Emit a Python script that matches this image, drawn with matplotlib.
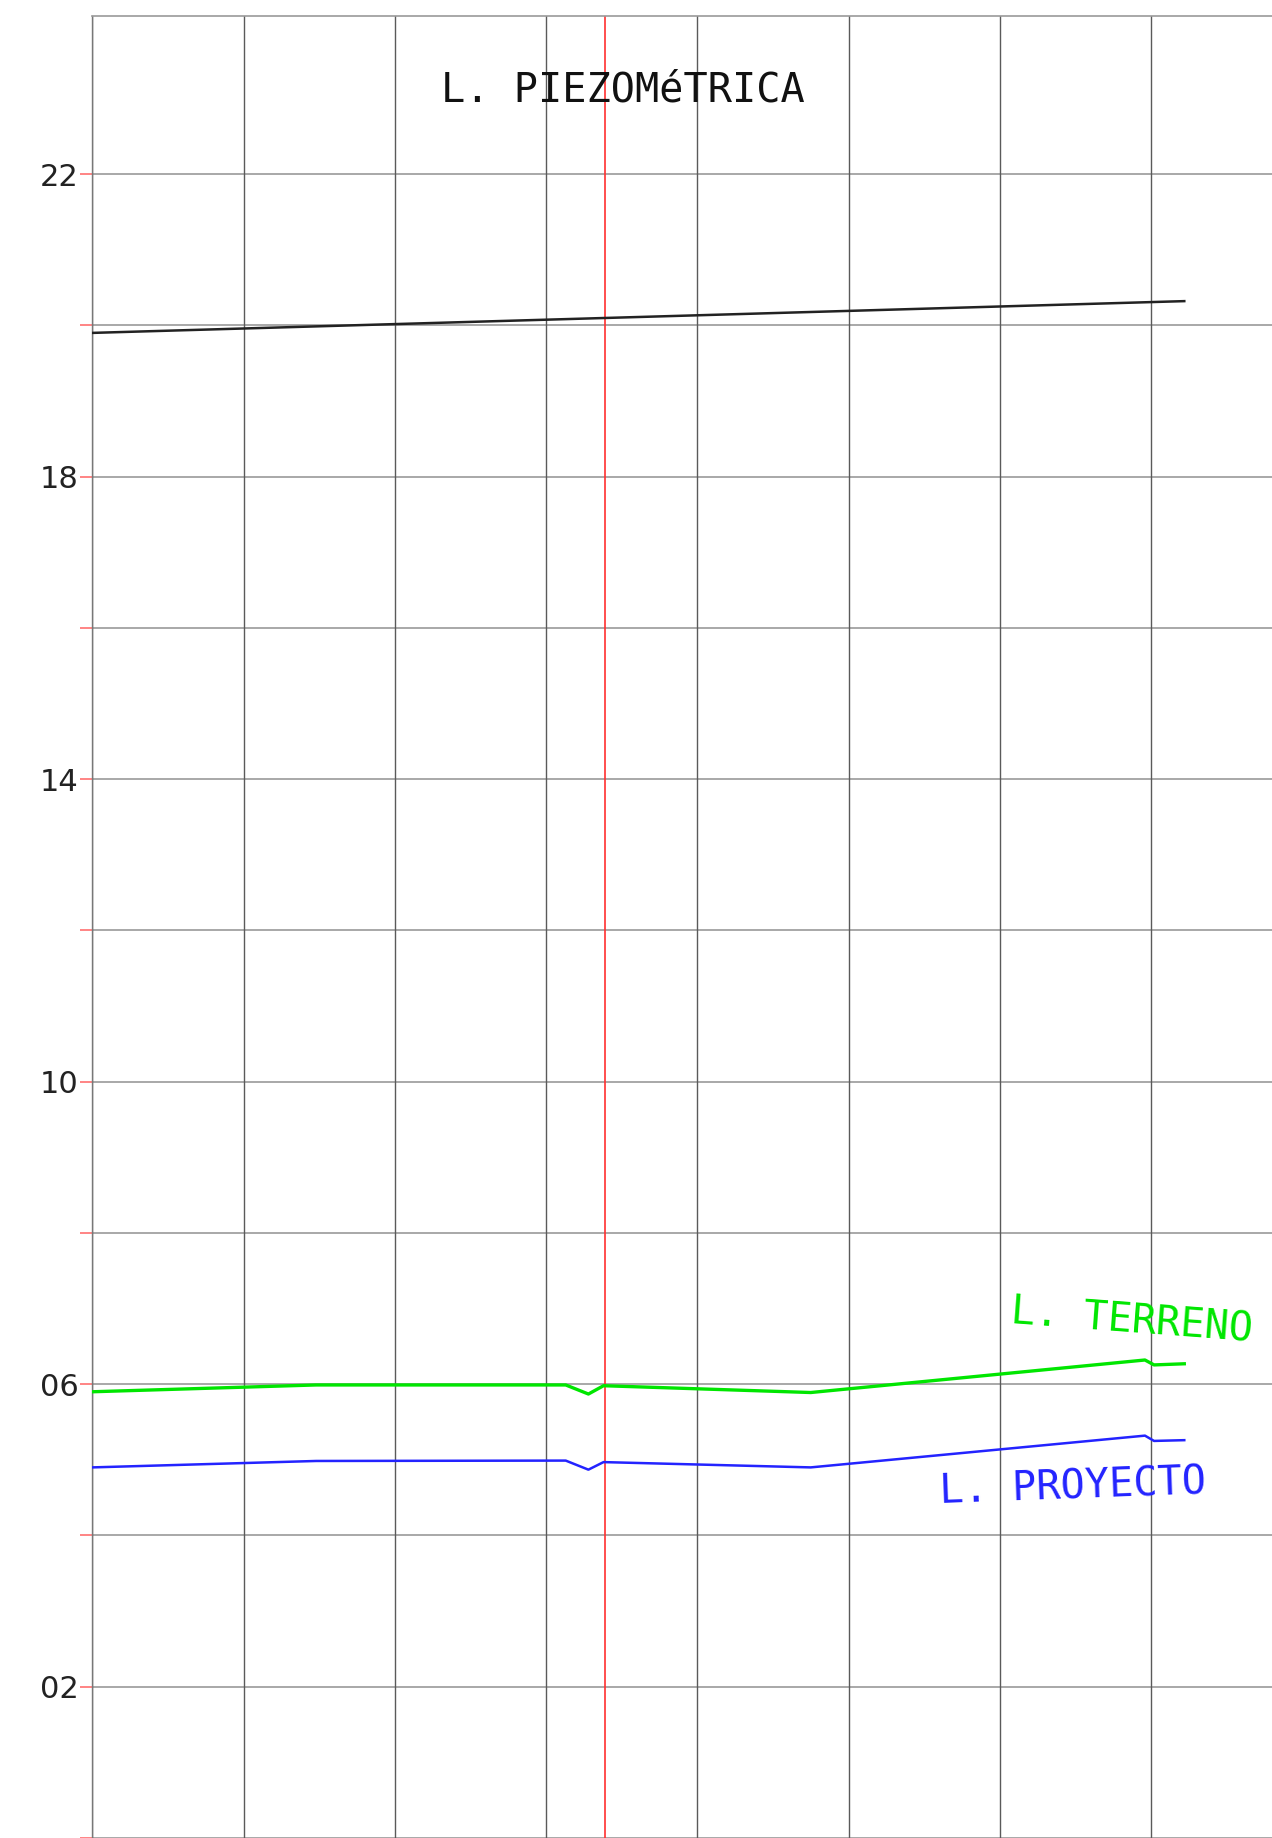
import numpy as np
import matplotlib
matplotlib.use("Agg")
import matplotlib.pyplot as plt

# distance along the profile (grid every 10) and elevations
terreno_x = [0.0, 14.8, 31.3, 32.8, 33.8, 47.5, 69.6, 70.2, 72.2]
terreno_y = [5.90, 5.99, 5.99, 5.87, 5.98, 5.89, 6.32, 6.255, 6.27]

proyecto_x = [0.0, 14.8, 31.3, 32.8, 33.8, 47.5, 69.6, 70.2, 72.2]
proyecto_y = [4.90, 4.985, 4.99, 4.87, 4.97, 4.90, 5.32, 5.25, 5.26]

piezo_x = [0.0, 72.2]
piezo_y = [19.90, 20.32]

marker_x = 33.9

y_ticks = np.arange(0, 24, 2)
y_labels = [f"{v:02d}" if v % 4 == 2 else "" for v in y_ticks]
x_ticks = np.arange(0, 80, 10)

fig = plt.figure(figsize=(12.72, 18.38), dpi=100, facecolor="white")
ax = fig.add_axes([0.0726, 0.0, 0.9274, 0.9913])
ax.set_facecolor("white")

# grid
for y in y_ticks:
    ax.axhline(y, color="#a8a8a8", linewidth=1.4, zorder=1)
for x in x_ticks:
    ax.axvline(x, color="#5a5a5a", linewidth=1.0, zorder=1)

ax.axvline(marker_x, color="#ff3030", linewidth=1.2, zorder=2)

ax.plot(piezo_x, piezo_y, color="#222222", linewidth=1.8, zorder=3)
ax.plot(terreno_x, terreno_y, color="#00e600", linewidth=2.4, zorder=3)
ax.plot(proyecto_x, proyecto_y, color="#2323ff", linewidth=1.8, zorder=3)

mono = "DejaVu Sans Mono"
ax.text(35.1, 23.10, "L. PIEZOMéTRICA", fontsize=29, family=mono,
        color="#111111", ha="center", va="center")
ax.text(68.7, 6.83, "L. TERRENO", fontsize=29, family=mono,
        color="#00e600", ha="center", va="center",
        rotation=-4.3, rotation_mode="anchor")
ax.text(64.8, 4.63, "L. PROYECTO", fontsize=29, family=mono,
        color="#2323ff", ha="center", va="center",
        rotation=2.1, rotation_mode="anchor")

ax.set_xlim(0, 78.0)
ax.set_ylim(0, 24.09)
ax.set_xticks([])
ax.set_yticks(y_ticks)
ax.set_yticklabels(y_labels, fontsize=22, color="#222222")
ax.tick_params(axis="y", direction="out", length=9, width=1.2,
               color="#ff7070", pad=1)

for s in ["right", "bottom"]:
    ax.spines[s].set_visible(False)
ax.spines["top"].set_color("#999999")
ax.spines["top"].set_linewidth(1.2)
ax.spines["left"].set_color("#777777")
ax.spines["left"].set_linewidth(1.0)

fig.savefig("out.png", dpi=100, facecolor="white")
